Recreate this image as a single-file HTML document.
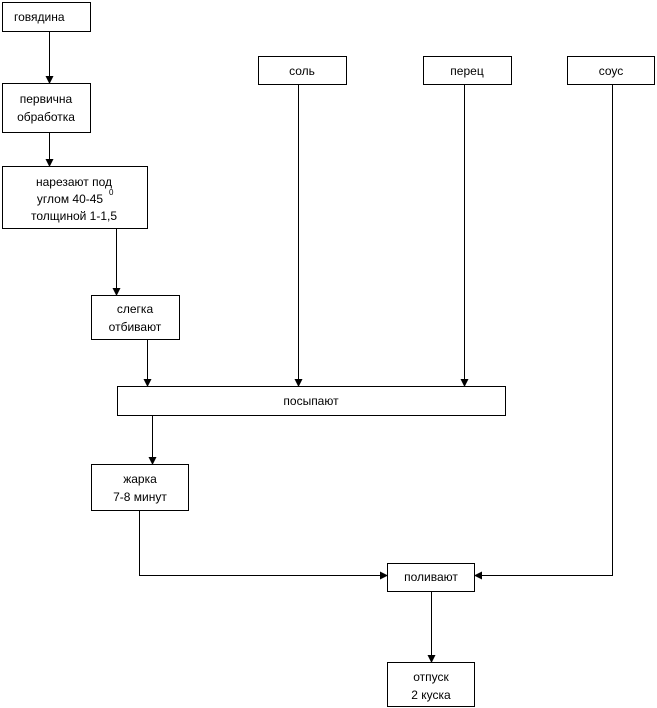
<!DOCTYPE html>
<html><head><meta charset="utf-8"><style>
html,body{margin:0;padding:0;background:#fff;}
svg{display:block;}
text{font-family:"Liberation Sans","DejaVu Sans",sans-serif;font-size:12px;fill:#000;}
</style></head><body>
<svg width="657" height="708" viewBox="0 0 657 708" xmlns="http://www.w3.org/2000/svg">
<defs><marker id="a" markerWidth="8" markerHeight="8" refX="7" refY="4" orient="auto" markerUnits="userSpaceOnUse"><path d="M0,0 L8,4 L0,8 z" fill="#000"/></marker></defs>
<g fill="none" stroke="#000" stroke-width="1">
<rect x="2.5" y="2.5" width="88" height="29"/>
<rect x="2.5" y="83.5" width="88" height="49"/>
<rect x="2.5" y="166.5" width="145" height="62"/>
<rect x="91.5" y="295.5" width="88" height="44"/>
<rect x="117.5" y="386.5" width="388" height="29"/>
<rect x="258.5" y="56.5" width="88" height="28"/>
<rect x="423.5" y="56.5" width="88" height="28"/>
<rect x="567.5" y="56.5" width="87" height="28"/>
<rect x="91.5" y="464.5" width="97" height="46"/>
<rect x="387.5" y="563.5" width="87" height="28"/>
<rect x="387.5" y="662.5" width="87" height="44"/>
<path d="M49.5,32 V83" marker-end="url(#a)"/>
<path d="M49.5,133 V166" marker-end="url(#a)"/>
<path d="M116.5,229 V295" marker-end="url(#a)"/>
<path d="M147.5,340 V386" marker-end="url(#a)"/>
<path d="M298.5,85 V386" marker-end="url(#a)"/>
<path d="M464.5,85 V386" marker-end="url(#a)"/>
<path d="M152.5,416 V464" marker-end="url(#a)"/>
<path d="M139.5,511 V575.5 H387" marker-end="url(#a)"/>
<path d="M612.5,85 V575.5 H475" marker-end="url(#a)"/>
<path d="M431.5,592 V662" marker-end="url(#a)"/>
</g>
<text x="14" y="21">говядина</text>
<text x="46" y="103" text-anchor="middle">первична</text>
<text x="46" y="121" text-anchor="middle">обработка</text>
<text x="74" y="186" text-anchor="middle">нарезают под</text>
<text x="70" y="203" text-anchor="middle">углом 40-45</text>
<text x="109" y="195" style="font-size:8px">0</text>
<text x="74" y="220" text-anchor="middle">толщиной 1-1,5</text>
<text x="135" y="313" text-anchor="middle">слегка</text>
<text x="135" y="331" text-anchor="middle">отбивают</text>
<text x="311" y="405" text-anchor="middle">посыпают</text>
<text x="302" y="75" text-anchor="middle">соль</text>
<text x="467" y="75" text-anchor="middle">перец</text>
<text x="611" y="75" text-anchor="middle">соус</text>
<text x="140" y="483" text-anchor="middle">жарка</text>
<text x="140" y="501" text-anchor="middle">7-8 минут</text>
<text x="431" y="581" text-anchor="middle">поливают</text>
<text x="431" y="681" text-anchor="middle">отпуск</text>
<text x="431" y="699" text-anchor="middle">2 куска</text>
</svg>
</body></html>
